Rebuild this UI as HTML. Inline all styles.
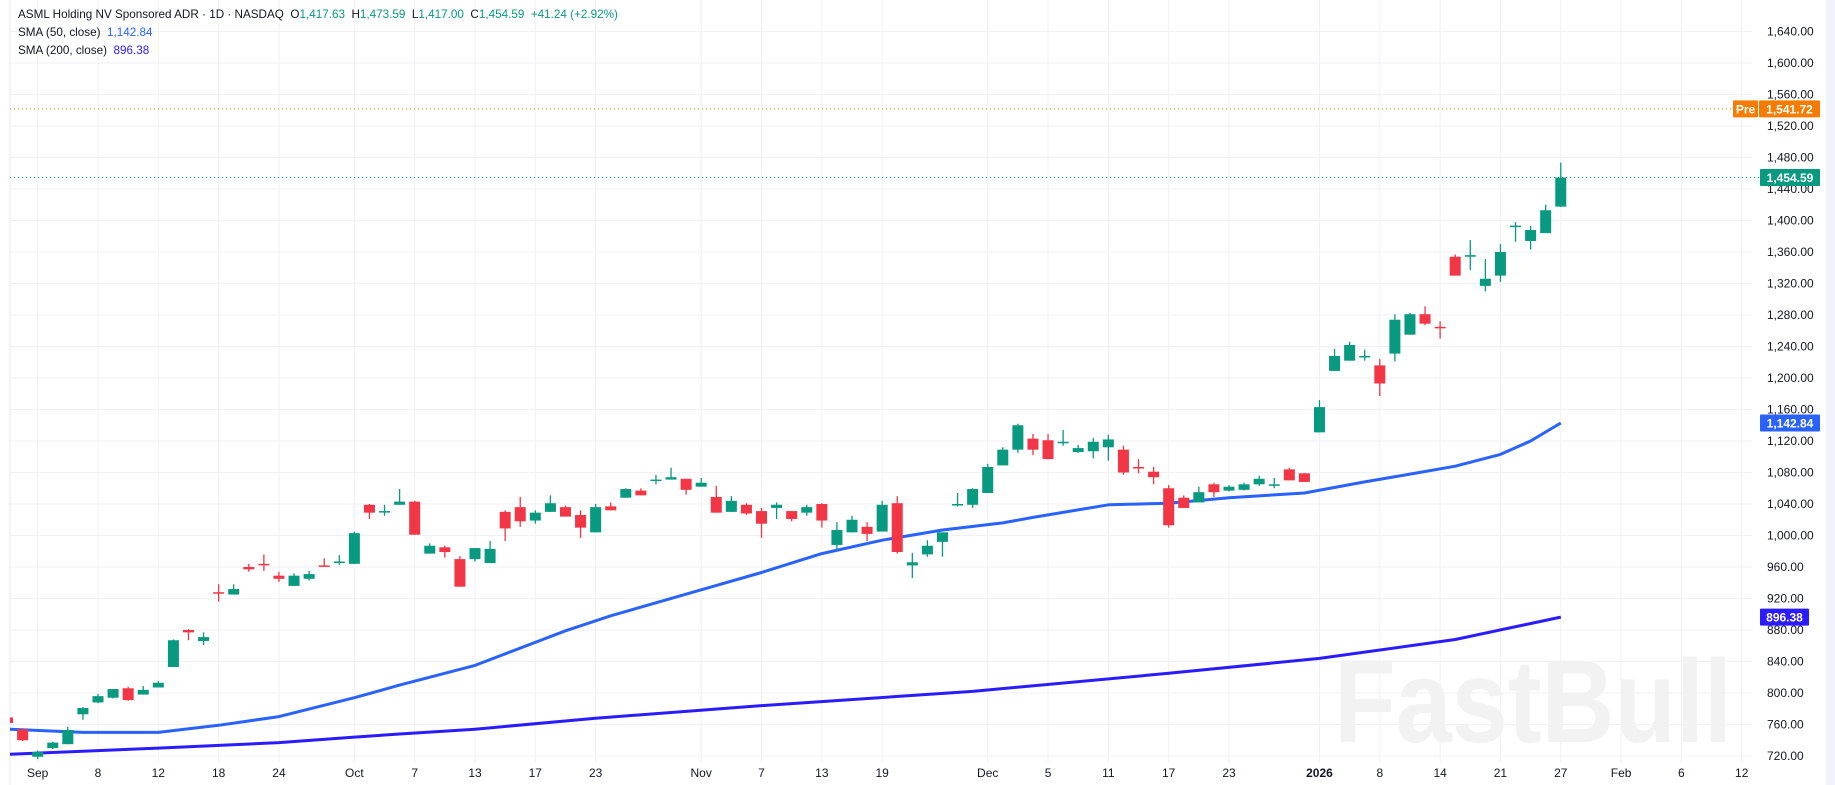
<!DOCTYPE html>
<html><head><meta charset="utf-8">
<style>
html,body{margin:0;padding:0;background:#fff;width:1835px;height:785px;overflow:hidden;font-family:"Liberation Sans",sans-serif;}
#chart{position:absolute;left:0;top:0;}
.legend{position:absolute;left:18px;font-size:11.7px;color:#131722;white-space:nowrap;}
</style></head><body>
<svg id="chart" width="1835" height="785" xmlns="http://www.w3.org/2000/svg">
<rect x="0" y="0" width="1835" height="785" fill="#ffffff"/>
<line x1="10" y1="0" x2="10" y2="785" stroke="#e6e8ee"/>
<rect x="1826" y="0" width="9" height="785" fill="#f0f3fa"/>
<g id="grid"></g>
<text x="1533" y="742" text-anchor="middle" font-size="118" font-weight="bold" fill="#f2f2f2" textLength="398" lengthAdjust="spacingAndGlyphs" style="font-family:'Liberation Sans',sans-serif">FastBull</text>
<g id="plot"></g>
<g id="axes"></g>
</svg>
<div class="legend" style="top:8px">ASML Holding NV Sponsored ADR · 1D · NASDAQ&nbsp; O<span style="color:#089981">1,417.63</span>&nbsp; H<span style="color:#089981">1,473.59</span>&nbsp; L<span style="color:#089981">1,417.00</span>&nbsp; C<span style="color:#089981">1,454.59</span>&nbsp; <span style="color:#089981">+41.24 (+2.92%)</span></div>
<div class="legend" style="top:26px">SMA (50, close)&nbsp; <span style="color:#2962ff">1,142.84</span></div>
<div class="legend" style="top:44px">SMA (200, close)&nbsp; <span style="color:#2b1bff">896.38</span></div>
<script>
const startIdx = -6;
const opens  = [769,754,719,730,735,773,788,794,806,798,807,833,880,866,928,925,960,964,949,936,945,962,966,964,1039,1030,1039,1043,977,985,970,970,965,1030,1036,1019,1030,1036,1026,1004,1037,1048,1057,1070,1071,1072,1062,1049,1030,1039,1031,1035,1031,1029,1040,988,1004,1011,1005,1041,962,976,992,1039,1039,1054,1089,1109,1123,1121,1118,1106,1107,1112,1109,1087,1081,1060,1048,1042,1065,1057,1058,1065,1064,1084,1079,1131,1209,1222,1227,1216,1231,1255,1281,1265,1354,1354,1317,1330,1393,1374,1384,1417.63];
const highs  = [770,754,727,738,757,782,799,805,808,809,815,868,881,877,938,938,964,976,954,952,955,971,975,1005,1040,1039,1059,1044,990,987,974,984,993,1032,1049,1032,1051,1038,1032,1040,1042,1060,1060,1077,1086,1072,1073,1063,1050,1041,1035,1042,1031,1039,1041,1017,1025,1017,1044,1050,978,994,1004,1054,1060,1091,1112,1142,1129,1129,1134,1115,1124,1128,1114,1097,1087,1064,1051,1062,1067,1064,1067,1076,1073,1086,1079,1172,1237,1246,1236,1224,1281,1283,1291,1272,1357,1375,1351,1370,1398,1393,1420,1473.59];
const lows   = [761,739,716,729,735,766,787,793,790,798,807,833,867,861,916,925,954,955,941,936,943,961,963,964,1021,1025,1039,1001,977,972,935,967,965,993,1011,1015,1030,1024,997,1004,1032,1048,1051,1065,1071,1052,1062,1029,1030,1026,997,1021,1018,1025,1010,981,1004,993,1005,977,946,973,973,1037,1035,1054,1089,1105,1102,1097,1114,1105,1098,1095,1077,1079,1065,1010,1035,1042,1049,1056,1057,1063,1060,1070,1068,1131,1209,1222,1222,1177,1221,1255,1267,1250,1330,1337,1310,1322,1373,1363,1384,1417];
const closes = [762,740,725,737,753,781,796,805,791,804,813,867,877,871,927,932,957,963,945,949,951,961,967,1003,1029,1031,1043,1001,987,979,935,984,983,1009,1018,1029,1041,1024,1010,1036,1032,1059,1051,1071,1074,1058,1067,1029,1044,1028,1015,1039,1021,1036,1019,1007,1020,1002,1039,979,966,987,1004,1040,1059,1087,1109,1140,1109,1097,1119,1111,1119,1122,1080,1086,1074,1013,1035,1055,1055,1062,1065,1072,1065,1070,1068,1163,1228,1242,1228,1193,1274,1281,1269,1264,1330,1356,1326,1360,1393.5,1388,1413,1454.59];
const sma50Idx  = [-6,-1,4,8,12,17,20,25,31,34,40,44,48,52,56,60,62,67,71,75,80,84,87,90,93,95,97];
const sma50Vals = [754,750,750,759,770,794,810,835,879,898,931,953,977,994,1007,1016,1023,1039,1041,1048,1054,1068,1078,1088,1103,1120,1142.84];
const sma200Idx  = [-6,4,12,17,20,25,33,44,58,71,81,90,97];
const sma200Vals = [722,730,737,744,748,754,768,784,802,825,844,868,896.38];
const priceTicks = [720,760,800,840,880,920,960,1000,1040,1080,1120,1160,1200,1240,1280,1320,1360,1400,1440,1480,1520,1560,1600,1640];
const timeTickIdx = [-4,0,4,8,12,17,21,25,29,33,40,44,48,52,59,63,67,71,75,81,85,89,93,97,101,105,109];
const timeTickLabels = ["Sep","8","12","18","24","Oct","7","13","17","23","Nov","7","13","19","Dec","5","11","17","23","2026","8","14","21","27","Feb","6","12"];
const lastClose = 1454.59, preMarket = 1541.72, sma50Last = 1142.84, sma200Last = 896.38;

const NS = "http://www.w3.org/2000/svg";
const PL = 10, PR = 1752;
function xScale(i){ return 98 + i * 15.08; }
function yScale(p){ return 756 - (p - 720) * 0.7875; }
function mk(tag, attrs, parent){ const e = document.createElementNS(NS, tag); for (const k in attrs) e.setAttribute(k, attrs[k]); parent.appendChild(e); return e; }
const grid = document.getElementById('grid'), plot = document.getElementById('plot'), axes = document.getElementById('axes');
const GREEN = "#089981", RED = "#f23645";

priceTicks.forEach(p => {
  const y = yScale(p);
  const l = mk('line', {x1:PL, x2:PR, y1:y, y2:y, stroke:'#f0f1f4', 'stroke-width':1}, grid);
  
  
  const t = mk('text', {x:1767, y:y+4, 'font-size':12, fill:'#131722'}, axes);
  t.textContent = p.toLocaleString('en-US',{minimumFractionDigits:2});
  
  
});
timeTickIdx.forEach((i, k) => {
  const x = xScale(i);
  const l = mk('line', {x1:x, x2:x, y1:0, y2:762, stroke:'#f0f1f4', 'stroke-width':1}, grid);
  
  
  const t = mk('text', {x:x, y:777, 'font-size':12, fill:'#131722', 'text-anchor':'middle', 'font-weight': timeTickLabels[k]==="2026" ? 'bold' : 'normal'}, axes);
  t.textContent = timeTickLabels[k];
  
  
});

const clip = mk('clipPath', {id:'pc'}, plot);
mk('rect', {x:PL, y:0, width:PR-PL, height:762}, clip);
const inner = mk('g', {'clip-path':'url(#pc)'}, plot);

function drawLine(idxs, vals, color, name){
  const d = idxs.map((i,k)=> (k?'L':'M') + xScale(i).toFixed(1) + ' ' + yScale(vals[k]).toFixed(1)).join(' ');
  const p = mk('path', {d:d, fill:'none', stroke:color, 'stroke-width':3, 'stroke-linejoin':'round'}, inner);
  
  
}
drawLine(sma50Idx, sma50Vals, '#2962ff', 'sma50-line');
drawLine(sma200Idx, sma200Vals, '#2b1bff', 'sma200-line');

const pl = mk('line', {x1:PL, x2:1733, y1:yScale(preMarket), y2:yScale(preMarket), stroke:'#f57c00', 'stroke-dasharray':'1 3'}, plot);


const cl = mk('line', {x1:PL, x2:1760, y1:yScale(lastClose), y2:yScale(lastClose), stroke:GREEN, 'stroke-dasharray':'1 3'}, plot);



opens.forEach((o, k) => {
  const i = startIdx + k, x = xScale(i), c = closes[k];
  const col = c >= o ? GREEN : RED;
  const g = mk('g', {}, inner);
  
  
  mk('line', {x1:x, x2:x, y1:yScale(highs[k]), y2:yScale(lows[k]), stroke:col, 'stroke-width':1.3}, g);
  const top = yScale(Math.max(o,c)), bot = yScale(Math.min(o,c));
  mk('rect', {x:x-5.5, y:top, width:11, height:Math.max(bot-top,1.5), fill:col}, g);
});

function badge(val, color, x, w, name, txt){
  const y = yScale(val);
  const g = mk('g', {}, axes);
  
  
  mk('rect', {x:x, y:y-8.5, width:w, height:17, fill:color, rx:1}, g);
  const t = mk('text', {x:x+w/2, y:y+4.5, 'font-size':12, fill:'#fff', 'text-anchor':'middle', 'font-weight':'bold'}, g);
  t.textContent = txt;
}
badge(preMarket, '#f57c00', 1733, 25, 'premarket-tag', 'Pre');
badge(preMarket, '#f57c00', 1759, 61, 'premarket-price-label', preMarket.toLocaleString('en-US',{minimumFractionDigits:2}));
badge(lastClose, GREEN, 1760, 60, 'last-price-label', lastClose.toLocaleString('en-US',{minimumFractionDigits:2}));
badge(sma50Last, '#2962ff', 1760, 60, 'sma50-price-label', sma50Last.toLocaleString('en-US',{minimumFractionDigits:2}));
badge(sma200Last, '#2b1bff', 1760, 49, 'sma200-price-label', sma200Last.toLocaleString('en-US',{minimumFractionDigits:2}));
</script>
</body></html>
